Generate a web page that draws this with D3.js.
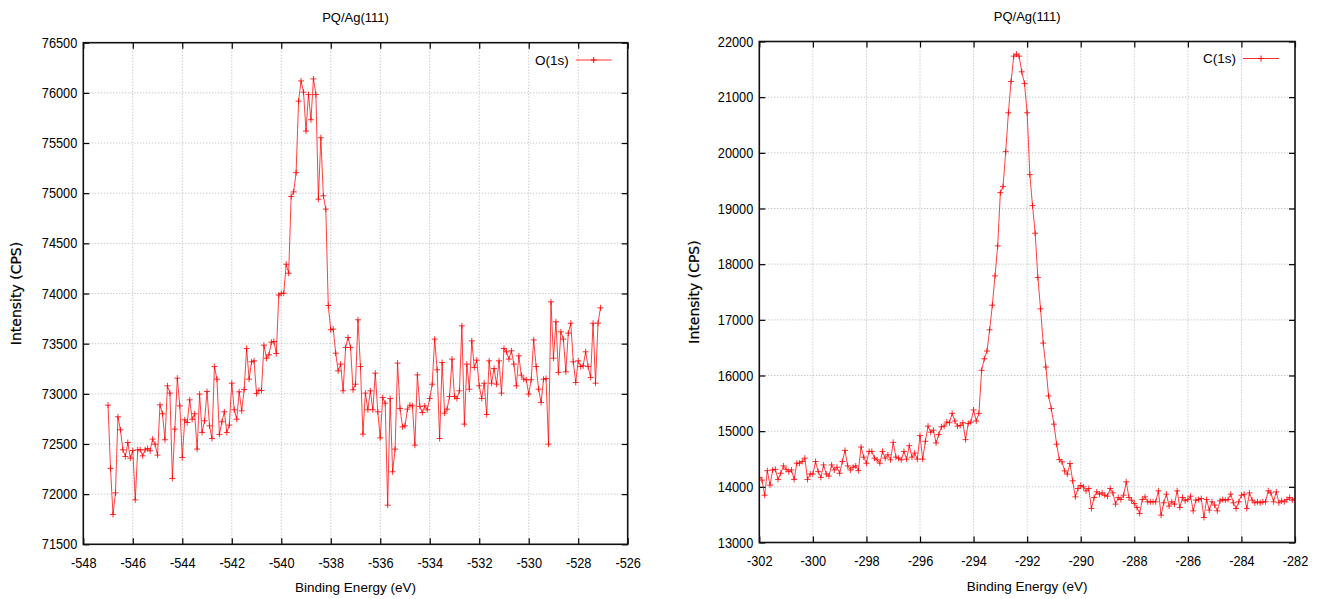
<!DOCTYPE html>
<html>
<head>
<meta charset="utf-8">
<script src="https://cdn.jsdelivr.net/npm/d3@7"></script>
<style>
  body { margin: 0; background: #fff; }
  svg { display: block; }
  text { font-family: "Liberation Sans", Arial, sans-serif; fill: #000; }
</style>
</head>
<body>
<div id="chart-div"></div>
<script>
// XPS spectra, PQ/Ag(111). Energies run on the instrument's 0.1 eV grid.
var oxygenStart = -547.0;
var oxygenStep = 0.1;
var oxygenCps = [
  72887, 72256, 71797, 72013, 72771, 72641, 72442, 72375, 72515, 72359,
  72435, 71943, 72442, 72442, 72382, 72442, 72455, 72432, 72548, 72498,
  72389, 72890, 72801, 72542, 73080, 73007, 72156, 72648, 73156, 72880,
  72365, 72741, 72714, 72940, 72747, 72801, 72449, 72997, 72615, 72731,
  73023, 72681, 72555, 73272, 73146, 72595, 72721, 72821, 72615, 72688,
  73106, 72841, 72747, 73020, 72831, 73043, 73452, 73146, 73319, 73329,
  73003, 73036, 73033, 73485, 73355, 73389, 73515, 73522, 73402, 73985,
  74000, 74003, 74292, 74202, 74967, 75013, 75205, 75917, 76119, 76007,
  75619, 75983, 75732, 76139, 75983, 74940, 75553, 74974, 74841, 73880,
  73638, 73645, 73405, 73229, 73296, 73030, 73462, 73561, 73462, 73040,
  73096, 73738, 73272, 72598, 73007, 72841, 73030, 72841, 73206, 72821,
  72561, 72963, 72907, 71890, 72953, 72223, 72449, 73306, 72854, 72671,
  72681, 72847, 72887, 72880, 72488, 73189, 72874, 72814, 72880, 72841,
  72953, 73096, 73545, 73239, 72555, 73312, 72807, 72847, 72973, 73346,
  72973, 72953, 73030, 73678, 72698, 73296, 73046, 73528, 73262, 73336,
  73080, 72953, 73106, 72794, 73329, 73106, 73252, 73096, 73329, 73007,
  73452, 73419, 73346, 73429, 73296, 73080, 73379, 73186, 73146, 73140,
  72997, 73140, 73538, 73272, 73046, 72914, 73146, 73153, 72498, 73917,
  73355, 73718, 73213, 73618, 73545, 73219, 73605, 73704, 73319, 73113,
  73329, 73272, 73279, 73419, 73272, 73163, 73704, 73106, 73704, 73857
];
var oxygenTicksX = [-548, -546, -544, -542, -540, -538, -536, -534, -532, -530, -528, -526];
var oxygenTicksY = [71500, 72000, 72500, 73000, 73500, 74000, 74500, 75000, 75500, 76000, 76500];

var carbonStart = -302.0;
var carbonStep = 0.1;
var carbonCps = [
  14170, 14121, 13849, 14291, 14030, 14303, 14315, 14133, 14243, 14376,
  14315, 14273, 14303, 14133, 14424, 14424, 14455, 14515, 14133, 14230,
  14230, 14455, 14273, 14170, 14394, 14230, 14194, 14394, 14303, 14352,
  14243, 14455, 14655, 14376, 14303, 14352, 14376, 14291, 14715, 14533,
  14424, 14636, 14636, 14515, 14485, 14424, 14636, 14515, 14576, 14485,
  14800, 14533, 14515, 14485, 14636, 14497, 14739, 14533, 14606, 14497,
  14921, 14497, 14818, 15091, 14982, 15018, 14788, 14939, 15079, 15091,
  15164, 15152, 15321, 15182, 15091, 15103, 15152, 14848, 15139, 15164,
  15382, 15182, 15320, 16093, 16301, 16439, 16821, 17263, 17790, 18328,
  19285, 19393, 20021, 20720, 21282, 21737, 21773, 21737, 21456, 21247,
  20720, 19608, 19052, 18556, 17760, 17197, 16582, 16152, 15633, 15406,
  15126, 14766, 14491, 14449, 14287, 14228, 14419, 14108, 13820, 13970,
  14024, 14000, 13928, 13970, 13611, 13808, 13910, 13868, 13892, 13850,
  13832, 13970, 13892, 13689, 13808, 13772, 13850, 14090, 13808, 13760,
  13701, 13629, 13521, 13772, 13820, 13731, 13731, 13731, 13731, 13928,
  13491, 13713, 13868, 13653, 13731, 13689, 13928, 13629, 13808, 13749,
  13772, 13832, 13569, 13760, 13772, 13790, 13449, 13772, 13581, 13731,
  13671, 13569, 13749, 13772, 13760, 13772, 13868, 13713, 13611, 13731,
  13850, 13868, 13611, 13892, 13760, 13713, 13731, 13713, 13731, 13731,
  13928, 13892, 13731, 13910, 13713, 13749, 13731, 13772, 13808, 13760,
  13780
];
var carbonTicksX = [-302, -300, -298, -296, -294, -292, -290, -288, -286, -284, -282];
var carbonTicksY = [13000, 14000, 15000, 16000, 17000, 18000, 19000, 20000, 21000, 22000];

var chartTitle = "PQ/Ag(111)";
var xTitle = "Binding Energy (eV)";
var yTitle = "Intensity (CPS)";

var props = { width: 1319, height: 599 };

var panels = [
  { id: "o1s", name: "O(1s)", start: oxygenStart, step: oxygenStep, cps: oxygenCps,
    ticksX: oxygenTicksX, ticksY: oxygenTicksY,
    left: 83.3, right: 627.7, top: 42.7, bottom: 544.3, yLabelX: 21, legendY: 60 },
  { id: "c1s", name: "C(1s)", start: carbonStart, step: carbonStep, cps: carbonCps,
    ticksX: carbonTicksX, ticksY: carbonTicksY,
    left: 759.3, right: 1295, top: 41.5, bottom: 542.5, yLabelX: 699, legendY: 58.5 }
];

var svg = d3.select("#chart-div").append("svg").attr("width", props.width).attr("height", props.height);
var squeeze = 0.88;

panels.forEach(function(p){
  var data = p.cps.map(function(v, i){ return { e: p.start + i * p.step, v: v }; });
  var xScale = d3.scaleLinear().domain(d3.extent(p.ticksX)).range([p.left, p.right]);
  var yScale = d3.scaleLinear().domain(d3.extent(p.ticksY)).range([p.bottom, p.top]);
  var g = svg.append("g").attr("id", "g-" + p.id);

  // dotted grid
  g.selectAll(".vgrid").data(p.ticksX.slice(1, -1)).enter().append("line")
    .attr("x1", function(d){ return xScale(d); }).attr("x2", function(d){ return xScale(d); })
    .attr("y1", p.top).attr("y2", p.bottom)
    .style("stroke", "#b4b4b4").style("stroke-width", 1).style("stroke-dasharray", "1,2");
  g.selectAll(".hgrid").data(p.ticksY.slice(1, -1)).enter().append("line")
    .attr("x1", p.left).attr("x2", p.right)
    .attr("y1", function(d){ return yScale(d); }).attr("y2", function(d){ return yScale(d); })
    .style("stroke", "#b4b4b4").style("stroke-width", 1).style("stroke-dasharray", "1,2");

  var fmt = function(d){ return String(d); };
  var xb = g.append("g").attr("transform", "translate(0," + p.bottom + ")")
    .call(d3.axisBottom(xScale).tickValues(p.ticksX).tickFormat(fmt).tickSize(-6).tickPadding(13));
  var yl = g.append("g").attr("transform", "translate(" + p.left + ",0)")
    .call(d3.axisLeft(yScale).tickValues(p.ticksY).tickFormat(fmt).tickSize(-6).tickPadding(6));
  var xt = g.append("g").attr("transform", "translate(0," + p.top + ")")
    .call(d3.axisTop(xScale).tickValues(p.ticksX).tickFormat("").tickSize(-6));
  var yr = g.append("g").attr("transform", "translate(" + p.right + ",0)")
    .call(d3.axisRight(yScale).tickValues(p.ticksY).tickFormat("").tickSize(-6));
  [xb, yl, xt, yr].forEach(function(a){
    a.select(".domain").remove();
    a.selectAll(".tick line").style("stroke", "#000").style("stroke-width", 1.2);
  });
  xb.selectAll("text").style("font-size", "14.5px").style("font-family", "Liberation Sans, Arial, sans-serif")
    .attr("transform", "scale(" + squeeze + ",1)");
  yl.selectAll("text").style("font-size", "14.5px").style("font-family", "Liberation Sans, Arial, sans-serif")
    .attr("x", -6 / squeeze).attr("transform", "scale(" + squeeze + ",1)");

  // series
  var clipId = "clip-" + p.id;
  svg.append("clipPath").attr("id", clipId).append("rect")
    .attr("x", p.left).attr("y", p.top).attr("width", p.right - p.left).attr("height", p.bottom - p.top);
  var series = g.append("g").attr("clip-path", "url(#" + clipId + ")");
  var lineGenerator = d3.line().x(function(d){ return xScale(d.e); }).y(function(d){ return yScale(d.v); });
  series.append("path").datum(data).attr("d", lineGenerator)
    .style("fill", "none").style("stroke", "#ff0000").style("stroke-width", 1).style("opacity", 0.75);
  series.selectAll(".pt").data(data).enter().append("path")
    .attr("class", "pt")
    .attr("d", function(d){
      var x = xScale(d.e), y = yScale(d.v);
      return "M" + (x - 3) + "," + y + "h6M" + x + "," + (y - 3) + "v6";
    })
    .style("fill", "none").style("stroke", "#ff0000").style("stroke-width", 1).style("opacity", 0.8);

  // frame
  g.append("rect").attr("x", p.left).attr("y", p.top)
    .attr("width", p.right - p.left).attr("height", p.bottom - p.top)
    .style("fill", "none").style("stroke", "#111").style("stroke-width", 1.6);

  // texts
  var cx = (p.left + p.right) / 2;
  g.append("text").attr("x", cx).attr("y", p.top - 20.5).attr("text-anchor", "middle")
    .style("font-size", "13px").text(chartTitle);
  g.append("text").attr("x", cx).attr("y", p.bottom + 48).attr("text-anchor", "middle")
    .style("font-size", "13.5px").text(xTitle);
  g.append("text").attr("transform", "translate(" + p.yLabelX + "," + ((p.top + p.bottom) / 2) + ") rotate(-90)")
    .attr("text-anchor", "middle").style("font-family", "DejaVu Sans, sans-serif").style("font-size", "14px")
    .style("stroke", "#000").style("stroke-width", 0.25)
    .text(yTitle);

  // legend
  var lx = p.right - 52;
  g.append("text").attr("x", lx - 7).attr("y", p.legendY + 4.8).attr("text-anchor", "end")
    .style("font-size", "13.5px").text(p.name);
  g.append("line").attr("x1", lx).attr("x2", lx + 36).attr("y1", p.legendY).attr("y2", p.legendY)
    .style("stroke", "#ff0000").style("stroke-width", 1).style("opacity", 0.8);
  g.append("path").attr("d", "M" + (lx + 15) + "," + p.legendY + "h6M" + (lx + 18) + "," + (p.legendY - 3) + "v6")
    .style("stroke", "#ff0000").style("stroke-width", 1);
});
</script>
</body>
</html>
